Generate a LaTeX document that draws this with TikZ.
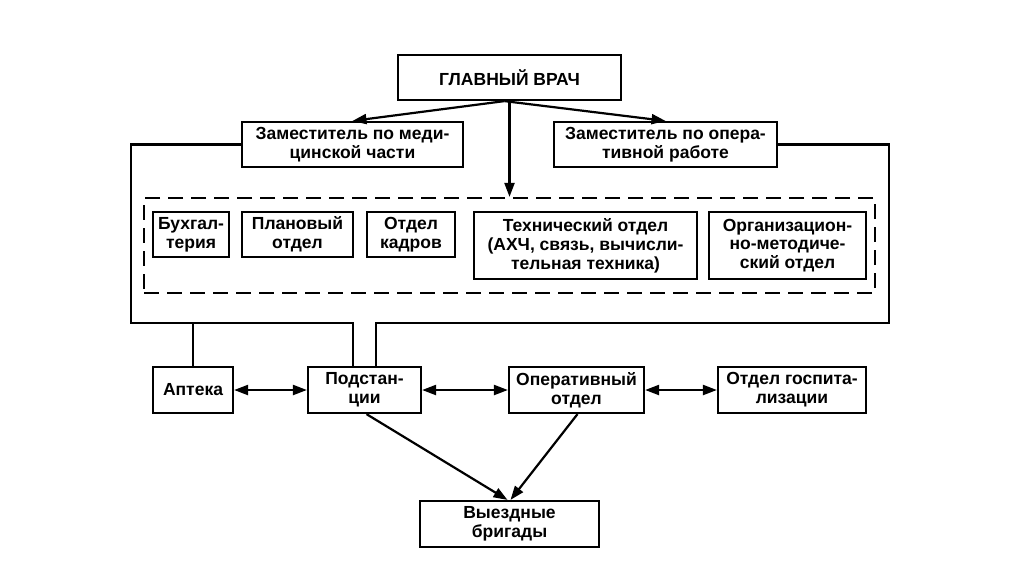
\documentclass[tikz,border=0pt]{standalone}
\usepackage{fontspec}
\setmainfont{Liberation Sans}
\usetikzlibrary{arrows.meta}
\tikzset{
  box/.style={draw=black, line width=2.2pt, align=center, inner sep=0pt,
    font=\fontsize{17.5}{18.8}\selectfont\bfseries},
  con/.style={draw=black, line width=2.2pt},
  arr/.style={con, -{Triangle[length=14pt,width=10pt]}},
  darr/.style={con, {Triangle[length=14pt,width=10pt]}-{Triangle[length=14pt,width=10pt]}},
  dashbox/.style={draw=black, line width=2.2pt, dash pattern=on 15pt off 8pt, inner sep=0pt}
}
\begin{document}
\begin{tikzpicture}[x=1pt,y=-1pt]
\useasboundingbox[fill=white] (0,0) rectangle (1024,574);
% top
\node[box, minimum width=223pt, minimum height=45pt] (glav) at (509.5,77.5) {ГЛАВНЫЙ ВРАЧ};
\node[box, minimum width=221pt, minimum height=45pt] (zmed) at (352.5,144.5) {Заместитель по меди-\\цинской части};
\node[box, minimum width=223pt, minimum height=45pt] (zop) at (665.5,144.5) {Заместитель по опера-\\тивной работе};
% dashed group
\node[dashbox, minimum width=731pt, minimum height=95pt] (grp) at (509.5,245.5) {};
\node[box, minimum width=76pt, minimum height=45pt] (buh) at (191,234.5) {Бухгал-\\терия};
\node[box, minimum width=111pt, minimum height=45pt] (plan) at (297.5,234.5) {Плановый\\отдел};
\node[box, minimum width=88pt, minimum height=45pt] (kadr) at (411,234.5) {Отдел\\кадров};
\node[box, minimum width=223pt, minimum height=67pt] (tech) at (585.5,245.5) {Технический отдел\\(АХЧ, связь, вычисли-\\тельная техника)};
\node[box, minimum width=157pt, minimum height=67pt] (org) at (787.5,245.5) {Организацион-\\но-методиче-\\ский отдел};
% bottom row
\node[box, minimum width=80pt, minimum height=46pt] (apt) at (193,390) {Аптека};
\node[box, minimum width=113pt, minimum height=46pt] (pods) at (364.5,390) {Подстан-\\ции};
\node[box, minimum width=135pt, minimum height=46pt] (oper) at (576.5,390) {Оперативный\\отдел};
\node[box, minimum width=148pt, minimum height=46pt] (gosp) at (792,390) {Отдел госпита-\\лизации};
\node[box, minimum width=179pt, minimum height=46pt] (vyezd) at (509.5,524) {Выездные\\бригады};
% frame corners
\coordinate (cL) at (131,323);
\coordinate (cR) at (889,323);
% arrows from chief
\draw[arr] ([xshift=-5pt]glav.south) -- (zmed.north);
\draw[arr] ([xshift=-5pt]glav.south) -- (zop.north);
\draw[arr] (glav.south) -- (grp.north);
% frame
\draw[con] (zmed.west) -| (cL) -| ([xshift=-11.5pt]pods.north);
\draw[con] (zop.east) -| (cR) -| ([xshift=11.5pt]pods.north);
\draw[con] (apt.north) -- (apt.north |- cL);
% horizontal links
\draw[darr] (apt.east) -- (pods.west);
\draw[darr] (pods.east) -- (oper.west);
\draw[darr] (oper.east) -- (gosp.west);
% to brigades
\draw[arr] ([xshift=2pt]pods.south) -- ([xshift=-2pt]vyezd.north);
\draw[arr] ([xshift=1pt]oper.south) -- ([xshift=1pt]vyezd.north);
\end{tikzpicture}
\end{document}
